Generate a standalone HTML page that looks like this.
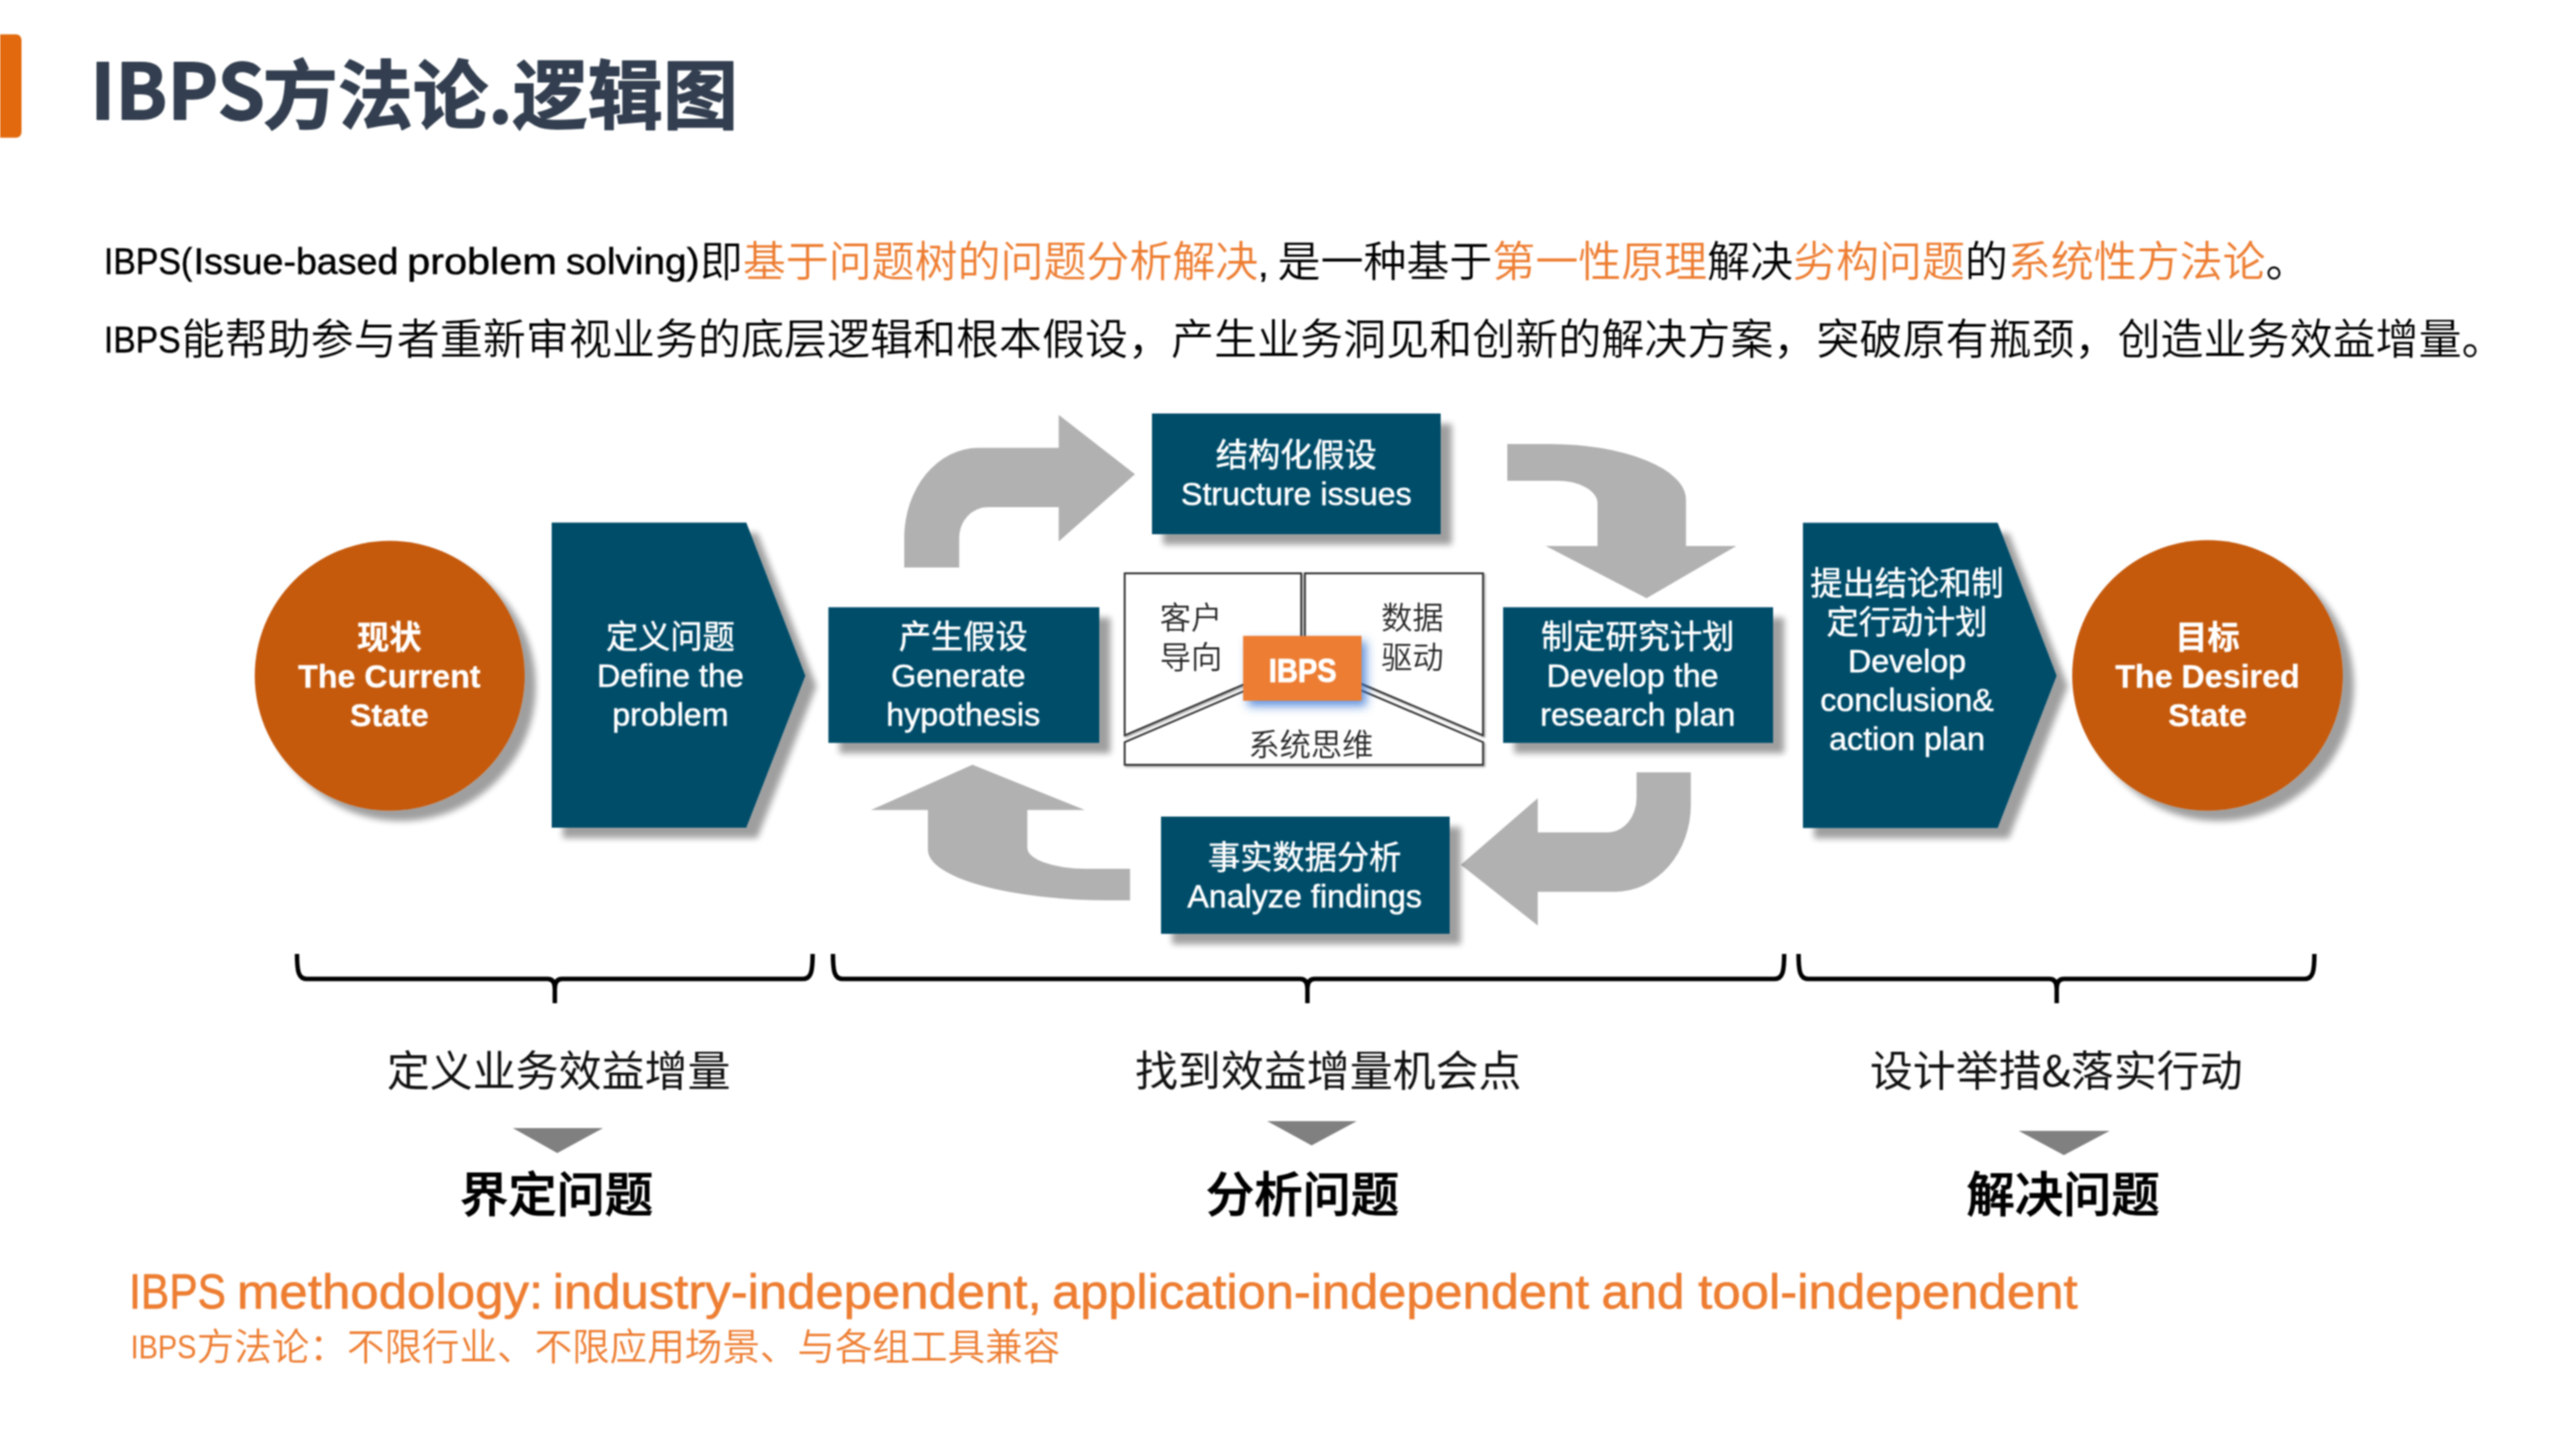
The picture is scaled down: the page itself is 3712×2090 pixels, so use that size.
<!DOCTYPE html>
<html lang="zh-CN">
<head>
<meta charset="utf-8">
<title>IBPS方法论.逻辑图</title>
<style>
html,body{margin:0;padding:0;background:#fff;}
body{width:3712px;height:2090px;overflow:hidden;position:relative;}
svg{position:absolute;left:0;top:0;display:block;filter:blur(1px);}
text{font-family:"Liberation Sans","Noto Sans CJK SC",sans-serif;}
.cjk{font-family:"Noto Sans CJK SC","Liberation Sans",sans-serif;}
.w{fill:#fff;}
.box{fill:#064E6B;}
.gray{fill:#B1B1B1;}
.dg{font-size:46.4px;fill:#fff;text-anchor:middle;stroke:#fff;stroke-width:0.7px;}
.dgb{font-size:46.4px;fill:#fff;text-anchor:middle;font-weight:700;stroke:#fff;stroke-width:0.4px;}
.ctr{font-size:45px;fill:#262626;text-anchor:middle;font-weight:350;}
.lbl{font-size:61.9px;fill:#111;text-anchor:middle;font-weight:400;}
.blbl{font-size:69.6px;fill:#000;text-anchor:middle;font-weight:500;stroke:#000;stroke-width:1.2px;}
.body{font-size:61.9px;fill:#000;font-weight:350;}
.lat{font-family:"Liberation Sans",sans-serif;font-size:53.5px;stroke:#000;stroke-width:0.7px;}
.or{fill:#ED7D31;}
</style>
</head>
<body>
<svg width="3712" height="2090" viewBox="0 0 3712 2090">
<defs>
<filter id="sh" x="-20%" y="-20%" width="150%" height="150%">
<feGaussianBlur in="SourceAlpha" stdDeviation="5"/>
<feOffset dx="16" dy="15" result="o"/>
<feComponentTransfer><feFuncA type="linear" slope="0.38"/></feComponentTransfer>
<feMerge><feMergeNode/><feMergeNode in="SourceGraphic"/></feMerge>
</filter>
<filter id="glow" x="-30%" y="-30%" width="170%" height="170%">
<feGaussianBlur in="SourceAlpha" stdDeviation="7"/>
<feOffset dx="7" dy="8" result="o"/>
<feFlood flood-color="#2F6FD0" flood-opacity="0.75"/>
<feComposite in2="o" operator="in"/>
<feMerge><feMergeNode/><feMergeNode in="SourceGraphic"/></feMerge>
</filter>
<filter id="sh2" x="-5%" y="-5%" width="112%" height="112%">
<feGaussianBlur in="SourceAlpha" stdDeviation="1.5"/>
<feOffset dx="1.5" dy="2" result="o"/>
<feComponentTransfer><feFuncA type="linear" slope="0.35"/></feComponentTransfer>
<feMerge><feMergeNode/><feMergeNode in="SourceGraphic"/></feMerge>
</filter>
</defs>

<!-- title -->
<path d="M-20 49.5 H23 a8 8 0 0 1 8 8 V190.5 a8 8 0 0 1 -8 8 H-20 Z" fill="#E2690D"/>
<text id="title" class="cjk" x="130" y="177" font-size="108.3" font-weight="700" fill="#333F50" stroke="#333F50" stroke-width="1.8" stroke-linejoin="round"><tspan font-size="110" y="171.8">IBPS</tspan><tspan y="177" x="378.5">方法论.逻辑图</tspan></text>

<!-- paragraph -->
<text id="p1" class="body cjk" y="399"><tspan class="lat" x="149.8" y="395" textLength="127.2" lengthAdjust="spacingAndGlyphs">IBPS(</tspan><tspan class="lat" x="278.9" y="395" textLength="295.2" lengthAdjust="spacingAndGlyphs">Issue-based</tspan> <tspan class="lat" x="586.8" y="395" textLength="215.8" lengthAdjust="spacingAndGlyphs">problem</tspan> <tspan class="lat" x="815.4" y="395" textLength="192.7" lengthAdjust="spacingAndGlyphs">solving)</tspan><tspan x="1008.5" y="399">即</tspan><tspan class="or" x="1070.4" textLength="742.8" lengthAdjust="spacing">基于问题树的问题分析解决</tspan><tspan class="lat" x="1813">,</tspan><tspan x="1841" textLength="309.5" lengthAdjust="spacing">是一种基于</tspan><tspan class="or" x="2150.5" textLength="309.5" lengthAdjust="spacing">第一性原理</tspan><tspan x="2460" textLength="123.8" lengthAdjust="spacing">解决</tspan><tspan class="or" x="2583.8" textLength="247.6" lengthAdjust="spacing">劣构问题</tspan><tspan x="2831.4">的</tspan><tspan class="or" x="2893.3" textLength="371.4" lengthAdjust="spacing">系统性方法论</tspan><tspan x="3264.7">。</tspan></text>
<text id="p2" class="body cjk" y="510"><tspan class="lat" x="149.8" y="508" textLength="110.4" lengthAdjust="spacingAndGlyphs">IBPS</tspan><tspan x="261.8" y="511" textLength="3347.4" lengthAdjust="spacing">能帮助参与者重新审视业务的底层逻辑和根本假设，产生业务洞见和创新的解决方案，突破原有瓶颈，创造业务效益增量。</tspan></text>

<!-- gray arrows -->
<g class="gray">
<path id="a1" d="M1303 818 V775 A107 130 0 0 1 1410 645.4 H1525.6 V598 L1635.5 683.6 L1525.6 780.4 V731.1 H1423 A41 44 0 0 0 1382.2 775 V818 Z"/>
<path id="a2" d="M2172 640 H2233 A196.5 80 0 0 1 2429.5 720 V787 H2502 L2372.7 862.3 L2227.5 787 H2302 V725.4 A58 32.5 0 0 0 2244 692.9 H2172 Z"/>
<path id="a3" d="M2358.3 1113.3 H2436.5 V1160 A109.5 125.5 0 0 1 2327 1285.5 H2215.9 V1334 L2105.1 1246.4 L2215.9 1150.5 V1199.8 H2316.5 A41.8 49.8 0 0 0 2358.3 1150 Z"/>
<path id="a4" d="M1401.3 1102.3 L1563.3 1167.5 H1480.4 V1222 A84.7 30 0 0 0 1565 1252.2 H1628.4 V1297.8 H1600 A263 73 0 0 1 1337.1 1225 V1167.5 H1255.1 Z"/>
</g>

<!-- shapes with shadows -->
<g filter="url(#sh)">
<circle cx="561.6" cy="974" r="194.5" fill="#C55A11"/>
<circle cx="3181" cy="973.6" r="195" fill="#C55A11"/>
<path class="box" d="M795 753.3 H1075.4 L1160.5 974 L1075.4 1193 H795 Z"/>
<path class="box" d="M2598 753.5 H2878.6 L2963.6 974 L2878.6 1193.5 H2598 Z"/>
<rect class="box" x="1193.7" y="875.3" width="390.4" height="195.5"/>
<rect class="box" x="2166" y="875.3" width="389" height="195.5"/>
<rect class="box" x="1660" y="596" width="416" height="174"/>
<rect class="box" x="1673" y="1177" width="416" height="169"/>
</g>

<!-- centre diagram -->
<g fill="#fff" stroke="#333" stroke-width="2.7" stroke-linejoin="miter" filter="url(#sh2)">
<path d="M1620.7 826.3 H1875 V951 L1620.7 1060 Z"/>
<path d="M1880.4 826.3 H2137 V1060 L1880.4 951 Z"/>
<path d="M1620.7 1069.8 L1878 959.5 L2137 1069.8 V1102.4 H1620.7 Z"/>
</g>
<g filter="url(#glow)"><rect x="1791.3" y="916.5" width="170.7" height="93.5" fill="#ED7D31"/></g>
<text x="1828.3" y="982.8" font-size="47.2" font-weight="700" fill="#fff" stroke="#fff" stroke-width="1.2" textLength="97.7" lengthAdjust="spacingAndGlyphs">IBPS</text>
<text class="ctr cjk" x="1716.3" y="907">客户</text>
<text class="ctr cjk" x="1716.3" y="963.5">导向</text>
<text class="ctr cjk" x="2035.3" y="907">数据</text>
<text class="ctr cjk" x="2035.3" y="963.5">驱动</text>
<text class="ctr cjk" x="1889" y="1089.5">系统思维</text>

<!-- diagram texts -->
<text class="dgb" x="561" y="935">现状</text>
<text class="dgb" x="561" y="991">The Current</text>
<text class="dgb" x="561" y="1047">State</text>

<text class="dg" x="966" y="934">定义问题</text>
<text class="dg" x="966" y="990">Define the</text>
<text class="dg" x="966" y="1046">problem</text>

<text class="dg" x="1388" y="934">产生假设</text>
<text class="dg" x="1381" y="990">Generate</text>
<text class="dg" x="1388" y="1046">hypothesis</text>

<text class="dg" x="1868" y="672">结构化假设</text>
<text class="dg" x="1868" y="728">Structure issues</text>

<text class="dg" x="2360" y="934">制定研究计划</text>
<text class="dg" x="2352.5" y="990">Develop the</text>
<text class="dg" x="2360" y="1046">research plan</text>

<text class="dg" x="1880" y="1252">事实数据分析</text>
<text class="dg" x="1880" y="1308">Analyze findings</text>

<text class="dg" x="2748" y="857">提出结论和制</text>
<text class="dg" x="2748" y="913">定行动计划</text>
<text class="dg" x="2748" y="969">Develop</text>
<text class="dg" x="2748" y="1025">conclusion&amp;</text>
<text class="dg" x="2748" y="1081">action plan</text>

<text class="dgb" x="3181" y="935">目标</text>
<text class="dgb" x="3181" y="991">The Desired</text>
<text class="dgb" x="3181" y="1047">State</text>

<!-- braces -->
<g fill="none" stroke="#000" stroke-width="6.4" stroke-linecap="butt" stroke-linejoin="round">
<path d="M428 1375 C428 1400 430 1411 442 1411 H789.0 Q799.5 1411 799.5 1425 V1446 M799.5 1446 V1425 Q799.5 1411 810.0 1411 H1157 C1169 1411 1171 1400 1171 1375"/>
<path d="M1200.3 1375 C1200.3 1400 1202.3 1411 1214.3 1411 H1873.5 Q1884 1411 1884 1425 V1446 M1884 1446 V1425 Q1884 1411 1894.5 1411 H2557 C2569 1411 2571 1400 2571 1375"/>
<path d="M2591.7 1375 C2591.7 1400 2593.7 1411 2605.7 1411 H2953.2 Q2963.7 1411 2963.7 1425 V1446 M2963.7 1446 V1425 Q2963.7 1411 2974.2 1411 H3321 C3333 1411 3335 1400 3335 1375"/>
</g>

<text class="lbl cjk" x="805" y="1566">定义业务效益增量</text>
<text class="lbl cjk" x="1914" y="1566">找到效益增量机会点</text>
<text class="lbl cjk" x="2963" y="1566">设计举措&amp;落实行动</text>

<g fill="#808080">
<path d="M739 1626 H869 L803 1662 Z"/>
<path d="M1826 1616 H1955 L1890 1651 Z"/>
<path d="M2909 1630 H3040 L2974 1665 Z"/>
</g>

<text class="blbl cjk" x="802" y="1746.5">界定问题</text>
<text class="blbl cjk" x="1877" y="1746.5">分析问题</text>
<text class="blbl cjk" x="2973" y="1746.5">解决问题</text>

<!-- bottom -->
<text id="b1" class="or" y="1886.2" font-size="69.7" stroke="#ED7D31" stroke-width="0.9" style="font-family:'Liberation Sans',sans-serif"><tspan x="186.1" textLength="139.5" lengthAdjust="spacingAndGlyphs">IBPS</tspan> <tspan x="341.4" textLength="441.3" lengthAdjust="spacingAndGlyphs">methodology:</tspan> <tspan x="796.4" textLength="704.7" lengthAdjust="spacingAndGlyphs">industry-independent,</tspan> <tspan x="1516.0" textLength="774.0" lengthAdjust="spacingAndGlyphs">application-independent</tspan> <tspan x="2307.8" textLength="119.5" lengthAdjust="spacingAndGlyphs">and</tspan> <tspan x="2447.0" textLength="547.0" lengthAdjust="spacingAndGlyphs">tool-independent</tspan></text>
<text id="b2" class="or cjk" y="1961" font-size="54.1" font-weight="350"><tspan x="188.3" y="1958.4" textLength="94.8" lengthAdjust="spacingAndGlyphs" style="font-family:'Liberation Sans',sans-serif;font-size:47.2px">IBPS</tspan><tspan x="283.5" y="1961" textLength="1244.3" lengthAdjust="spacing">方法论：不限行业、不限应用场景、与各组工具兼容</tspan></text>
</svg>
</body>
</html>
